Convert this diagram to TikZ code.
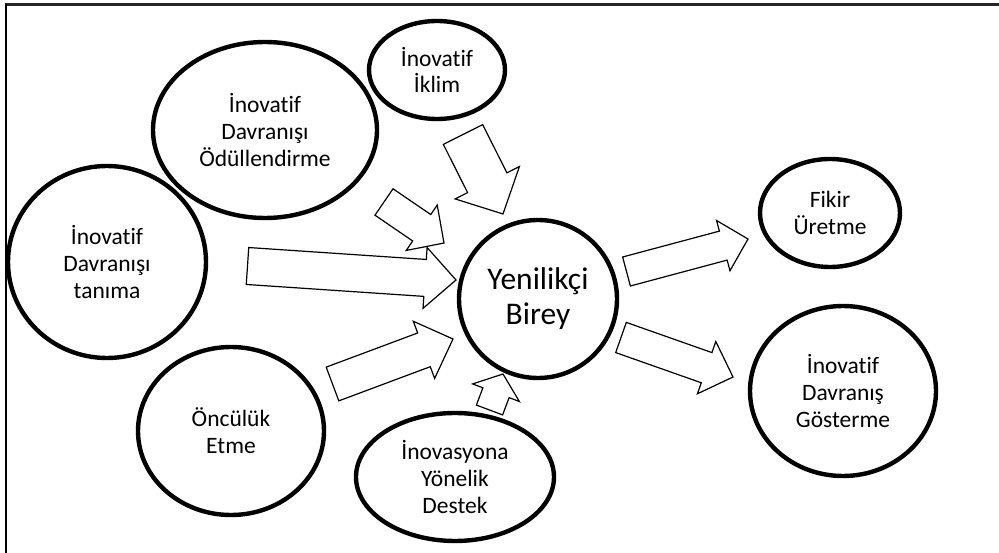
\documentclass[tikz,border=0pt]{standalone}
\usepackage{fontspec}
\setmainfont{Carlito}[Ligatures={NoCommon}]
\usetikzlibrary{calc,shapes.geometric}
\tikzset{
  oval/.style={draw=black, fill=white, line width=4.4pt, ellipse, inner sep=0pt, align=center,
    font=\fontsize{23.5}{26.7}\selectfont},
  barrow/.style={draw=black, fill=white, line width=1.2pt, line join=miter},
}
\newcommand\blkarrow[5]{%
  \draw[barrow] ($(#1)!#3!90:(#2)$) -- ($(#2)!#5!(#1)!#3!-90:(#1)$) -- ($(#2)!#5!(#1)!#4!-90:(#1)$) -- (#2)
   -- ($(#2)!#5!(#1)!#4!90:(#1)$) -- ($(#2)!#5!(#1)!#3!90:(#1)$) -- ($(#1)!#3!-90:(#2)$) -- cycle;}
\begin{document}
\begin{tikzpicture}[x=1pt,y=-1pt]
\useasboundingbox (0,0) rectangle (999,553);
% frame
\draw[line width=2.2pt, black!85] (4.5,4.5) -- (999,4.5);
\draw[line width=2pt] (5.5,4.5) -- (5.5,553);
% ellipses
\node[oval, minimum width=198pt, minimum height=192pt] (tanima) at (107,262) {İnovatif\\Davranışı\\tanıma};
\node[oval, minimum width=224pt, minimum height=176pt] (odul) at (265,130) {İnovatif\\Davranışı\\Ödüllendirme};
\node[oval, minimum width=136pt, minimum height=98pt] (iklim) at (437,70) {İnovatif\\İklim};
\node[oval, minimum width=186pt, minimum height=168pt] (oncu) at (231,431) {Öncülük\\Etme};
\node[oval, minimum width=198pt, minimum height=128pt] (destek) at (455,477) {İnovasyona\\Yönelik\\Destek};
\node[oval, minimum width=158pt, minimum height=158pt, font=\fontsize{31.5}{35}\selectfont] (birey) at (538,299) {Yenilikçi\\Birey};
\node[oval, minimum width=140pt, minimum height=108pt] (fikir) at (830,213) {Fikir\\Üretme};
\node[oval, minimum width=186pt, minimum height=170pt] (gost) at (843,391) {İnovatif\\Davranış\\Gösterme};
% arrow end points
\coordinate (a1s) at (463,134.5); \coordinate (a1e) at (503,214);
\coordinate (a2s) at (384,202);   \coordinate (a2e) at (444,243);
\coordinate (a3s) at (247.5,266); \coordinate (a3e) at (456,280);
\coordinate (a4s) at (332.5,384); \coordinate (a4e) at (453,339);
\coordinate (a5s) at (489.5,410); \coordinate (a5e) at (503,374);
\coordinate (a6s) at (626.5,271.5); \coordinate (a6e) at (748,239);
\coordinate (a7s) at (621,337.5); \coordinate (a7e) at (733,377);
% block arrows
\blkarrow{a1s}{a1e}{22pt}{36pt}{35pt}
\blkarrow{a2s}{a2e}{16pt}{27.5pt}{27pt}
\blkarrow{a3s}{a3e}{18.5pt}{30.5pt}{31pt}
\blkarrow{a4s}{a4e}{18pt}{30.5pt}{31pt}
\blkarrow{a5s}{a5e}{14pt}{25pt}{20pt}
\blkarrow{a6s}{a6e}{15pt}{26pt}{25.6pt}
\blkarrow{a7s}{a7e}{16pt}{27.7pt}{28pt}
\end{tikzpicture}
\end{document}
